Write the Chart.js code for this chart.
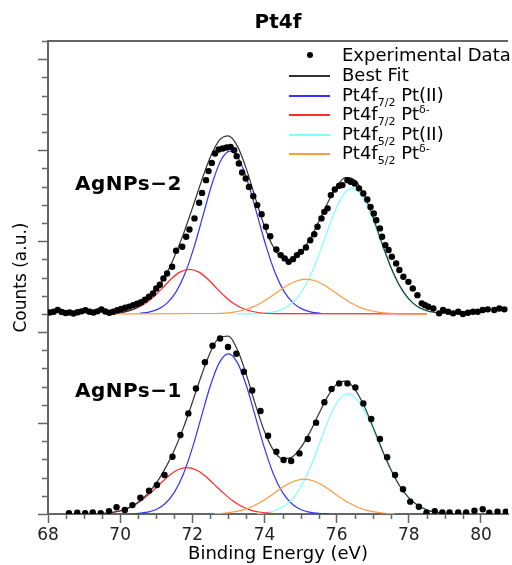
<!DOCTYPE html>
<html>
<head>
<meta charset="utf-8">
<script src="https://cdn.jsdelivr.net/npm/chart.js@4.4.0/dist/chart.umd.min.js"></script>
<style>
  html, body { margin: 0; padding: 0; background: #fff; }
  #wrap { position: relative; width: 512px; height: 565px; overflow: hidden; }
  #chart { position: absolute; left: 0; top: 0; }
  .txt { position: absolute; font-family: "DejaVu Sans", sans-serif; color: #000; white-space: nowrap; }
  .leg { font-size: 18px; line-height: 20px; left: 342px; }
  .leg sub, .leg sup { font-size: 11px; line-height: 0; }
  .sw { position: absolute; left: 289px; width: 41px; height: 1.5px; }
  .dot { position: absolute; left: 307px; width: 6px; height: 6px; border-radius: 50%; background: #000; }
  .sample { font-size: 20px; font-weight: bold; left: 75px; line-height: 24px; letter-spacing: 0.5px; }
</style>
</head>
<body>
<div id="wrap">
  <canvas id="chart" width="512" height="565"></canvas>

  <span class="dot" style="top:52px"></span>
  <span class="txt leg" style="top:45px">Experimental Data</span>
  <span class="sw" style="top:75px;background:#333"></span>
  <span class="txt leg" style="top:65px">Best Fit</span>
  <span class="sw" style="top:95px;background:#3333ff"></span>
  <span class="txt leg" style="top:85px">Pt4f<sub>7/2</sub> Pt(II)</span>
  <span class="sw" style="top:114px;background:#ff2a2a"></span>
  <span class="txt leg" style="top:104px">Pt4f<sub>7/2</sub> Pt<sup>δ-</sup></span>
  <span class="sw" style="top:134px;background:#80ffff"></span>
  <span class="txt leg" style="top:124px">Pt4f<sub>5/2</sub> Pt(II)</span>
  <span class="sw" style="top:153px;background:#ff9a40"></span>
  <span class="txt leg" style="top:143px">Pt4f<sub>5/2</sub> Pt<sup>δ-</sup></span>

  <span class="txt sample" style="top:171px">AgNPs−2</span>
  <span class="txt sample" style="top:378px">AgNPs−1</span>
</div>

<script>
// axis ranges
const X_MIN = 68, X_MAX = 80.75;
const Y_MIN = 0, Y_MAX = 26;
const OFFSET_2 = 11;   // vertical shift of the AgNPs-2 trace

// ---- AgNPs-1 (lower trace) ----
const s1DataE = [68.58, 68.81, 69.03, 69.24, 69.46, 69.69, 69.90, 70.13, 70.34, 70.56, 70.80, 71.02, 71.23, 71.45, 71.67, 71.89, 72.10, 72.35, 72.56, 72.77, 72.99, 73.22, 73.43, 73.66, 73.89, 74.10, 74.33, 74.53, 74.74, 74.97, 75.20, 75.43, 75.66, 75.86, 76.07, 76.30, 76.52, 76.74, 76.96, 77.20, 77.40, 77.62, 77.84, 78.04, 78.28, 78.49, 78.72, 78.93, 79.13, 79.37, 79.59, 79.82, 80.05, 80.23, 80.46, 80.69];
const s1DataY = [0.04, 0.07, 0.04, 0.09, 0.04, 0.16, 0.37, 0.22, 0.49, 0.90, 1.28, 1.59, 2.14, 3.15, 4.34, 5.53, 6.90, 8.34, 9.25, 9.65, 9.18, 8.81, 7.82, 6.79, 5.66, 4.30, 3.42, 2.97, 2.91, 3.33, 4.12, 5.02, 6.14, 6.87, 7.18, 7.18, 6.96, 6.08, 5.22, 4.12, 3.12, 2.14, 1.36, 0.68, 0.40, 0.07, 0.16, 0.09, 0.09, 0.09, 0.09, 0.18, 0.26, 0.07, 0.13, 0.13];

const s1FitE = [69.5, 69.75, 70.0, 70.25, 70.5, 70.75, 71.0, 71.25, 71.5, 71.75, 72.0, 72.25, 72.5, 72.75, 73.0, 73.25, 73.5, 73.75, 74.0, 74.25, 74.5, 74.75, 75.0, 75.25, 75.5, 75.75, 76.0, 76.25, 76.5, 76.75, 77.0, 77.25, 77.5, 77.75, 78.0, 78.25, 78.5, 78.75, 79.0, 79.25];
const s1FitY = [0.03, 0.08, 0.18, 0.35, 0.65, 1.09, 1.70, 2.51, 3.51, 4.72, 6.13, 7.60, 8.89, 9.70, 9.78, 9.03, 7.65, 6.01, 4.53, 3.50, 3.04, 3.11, 3.63, 4.46, 5.48, 6.45, 7.14, 7.30, 6.87, 5.99, 4.83, 3.59, 2.46, 1.54, 0.89, 0.48, 0.23, 0.10, 0.04, 0.02];

const s1BlueE = [70.3, 70.5, 70.75, 71.0, 71.25, 71.5, 71.75, 72.0, 72.25, 72.5, 72.75, 73.0, 73.25, 73.5, 73.75, 74.0, 74.25, 74.5, 74.75, 75.0, 75.25, 75.5, 75.8];
const s1BlueY = [0, 0.03, 0.10, 0.25, 0.58, 1.19, 2.19, 3.62, 5.34, 7.05, 8.32, 8.80, 8.32, 7.05, 5.34, 3.62, 2.19, 1.19, 0.58, 0.25, 0.10, 0.03, 0];

const s1RedE = [69.6, 69.85, 70.1, 70.35, 70.6, 70.85, 71.1, 71.35, 71.6, 71.85, 72.1, 72.35, 72.6, 72.85, 73.1, 73.35, 73.6, 73.85, 74.1, 74.35];
const s1RedY = [0.05, 0.11, 0.23, 0.44, 0.75, 1.17, 1.64, 2.10, 2.43, 2.55, 2.43, 2.10, 1.64, 1.17, 0.75, 0.44, 0.23, 0.11, 0.05, 0.02];

const s1CyanE = [73.8, 74.05, 74.3, 74.55, 74.8, 75.05, 75.3, 75.55, 75.8, 76.05, 76.3, 76.55, 76.8, 77.05, 77.3, 77.55, 77.8, 78.05, 78.3, 78.55, 78.8];
const s1CyanY = [0.03, 0.07, 0.19, 0.44, 0.89, 1.64, 2.71, 4.01, 5.29, 6.24, 6.60, 6.32, 5.55, 4.47, 3.30, 2.24, 1.39, 0.79, 0.41, 0.20, 0.09];

const s1OrangeE = [72.6, 72.85, 73.1, 73.35, 73.6, 73.85, 74.1, 74.35, 74.6, 74.85, 75.1, 75.35, 75.6, 75.85, 76.1, 76.35, 76.6, 76.85, 77.1, 77.35, 77.6];
const s1OrangeY = [0.02, 0.04, 0.10, 0.20, 0.36, 0.60, 0.91, 1.26, 1.59, 1.83, 1.92, 1.83, 1.59, 1.26, 0.91, 0.60, 0.36, 0.20, 0.10, 0.04, 0.02];

// ---- AgNPs-2 (upper trace, before offset) ----
const s2DataE = [68.05, 68.16, 68.27, 68.38, 68.49, 68.60, 68.71, 68.82, 68.93, 69.04, 69.15, 69.26, 69.37, 69.48, 69.59, 69.70, 69.81, 69.92, 70.03, 70.14, 70.25, 70.36, 70.47, 70.58, 70.69, 70.80, 70.91, 71.00, 71.10, 71.20, 71.30, 71.44, 71.55, 71.72, 71.83, 71.92, 72.06, 72.19, 72.27, 72.38, 72.45, 72.54, 72.63, 72.73, 72.84, 72.95, 73.06, 73.16, 73.23, 73.29, 73.38, 73.48, 73.57, 73.69, 73.80, 73.92, 74.04, 74.16, 74.33, 74.45, 74.56, 74.67, 74.79, 74.90, 75.01, 75.15, 75.27, 75.38, 75.47, 75.58, 75.66, 75.75, 75.84, 75.95, 76.07, 76.16, 76.30, 76.39, 76.50, 76.62, 76.74, 76.85, 76.94, 77.03, 77.10, 77.20, 77.26, 77.35, 77.44, 77.53, 77.65, 77.74, 77.85, 77.99, 78.11, 78.24, 78.36, 78.45, 78.54, 78.68, 78.84, 78.95, 79.09, 79.23, 79.37, 79.50, 79.64, 79.78, 79.91, 80.05, 80.19, 80.37, 80.51, 80.65];
const s2DataY = [0.08, 0.12, 0.21, 0.10, 0.05, 0.08, 0.02, 0.09, 0.14, 0.20, 0.12, 0.08, 0.14, 0.24, 0.13, 0.06, 0.12, 0.20, 0.27, 0.34, 0.40, 0.48, 0.56, 0.64, 0.78, 0.94, 1.12, 1.40, 1.60, 1.95, 2.22, 2.59, 3.47, 3.69, 4.24, 4.64, 5.25, 6.11, 6.65, 7.35, 7.85, 8.30, 8.82, 9.04, 9.09, 9.15, 9.18, 9.00, 8.67, 8.27, 7.77, 7.44, 6.98, 6.47, 5.98, 5.48, 4.79, 4.27, 3.54, 3.23, 3.05, 2.86, 3.01, 3.23, 3.41, 3.65, 4.05, 4.38, 4.79, 5.25, 5.61, 5.80, 6.53, 6.84, 7.04, 7.08, 7.35, 7.26, 7.17, 6.90, 6.62, 6.29, 5.88, 5.52, 5.15, 4.70, 4.24, 3.78, 3.51, 3.14, 2.77, 2.41, 2.04, 1.76, 1.40, 1.03, 0.58, 0.48, 0.39, 0.30, 0.03, 0.21, 0.12, 0.03, 0.12, -0.01, 0.06, 0.12, 0.12, 0.21, 0.25, 0.21, 0.30, 0.25];

const s2FitE = [69.75, 70.0, 70.25, 70.5, 70.75, 71.0, 71.25, 71.5, 71.75, 72.0, 72.25, 72.5, 72.75, 73.0, 73.25, 73.5, 73.75, 74.0, 74.25, 74.5, 74.75, 75.0, 75.25, 75.5, 75.75, 76.0, 76.25, 76.5, 76.75, 77.0, 77.25, 77.5, 77.75, 78.0, 78.25, 78.5, 78.75, 79.0];
const s2FitY = [0.03, 0.07, 0.18, 0.38, 0.74, 1.30, 2.09, 3.13, 4.37, 5.80, 7.28, 8.62, 9.55, 9.79, 9.22, 7.96, 6.35, 4.80, 3.66, 3.05, 2.98, 3.36, 4.08, 5.05, 6.10, 7.00, 7.49, 7.36, 6.60, 5.36, 3.93, 2.59, 1.54, 0.82, 0.39, 0.17, 0.07, 0.02];

const s2BlueE = [70.55, 70.8, 71.05, 71.3, 71.55, 71.8, 72.05, 72.3, 72.55, 72.8, 73.05, 73.3, 73.55, 73.8, 74.05, 74.3, 74.55, 74.8, 75.05, 75.3, 75.55];
const s2BlueY = [0.04, 0.10, 0.26, 0.59, 1.21, 2.23, 3.68, 5.43, 7.17, 8.47, 8.95, 8.47, 7.17, 5.43, 3.68, 2.23, 1.21, 0.59, 0.26, 0.10, 0.04];

const s2RedE = [69.67, 69.92, 70.17, 70.42, 70.67, 70.92, 71.17, 71.42, 71.67, 71.92, 72.17, 72.42, 72.67, 72.92, 73.17, 73.42, 73.67, 73.92, 74.17, 74.42, 78.5];
const s2RedY = [0.02, 0.05, 0.13, 0.28, 0.54, 0.93, 1.42, 1.93, 2.31, 2.45, 2.31, 1.93, 1.42, 0.93, 0.54, 0.28, 0.13, 0.05, 0.02, 0.01, 0];

const s2CyanE = [73.2, 73.93, 74.18, 74.43, 74.68, 74.93, 75.18, 75.43, 75.68, 75.93, 76.18, 76.43, 76.68, 76.93, 77.18, 77.43, 77.68, 77.93, 78.18, 78.43, 78.68, 78.93];
const s2CyanY = [0, 0.03, 0.08, 0.20, 0.46, 0.93, 1.72, 2.84, 4.19, 5.53, 6.53, 6.90, 6.53, 5.53, 4.19, 2.84, 1.72, 0.93, 0.46, 0.20, 0.08, 0.03];

const s2OrangeE = [69.7, 72.65, 72.9, 73.15, 73.4, 73.65, 73.9, 74.15, 74.4, 74.65, 74.9, 75.15, 75.4, 75.65, 75.9, 76.15, 76.4, 76.65, 76.9, 77.15, 77.4, 77.65, 78.5];
const s2OrangeY = [0, 0.02, 0.04, 0.10, 0.20, 0.36, 0.60, 0.91, 1.26, 1.59, 1.82, 1.91, 1.82, 1.59, 1.26, 0.91, 0.60, 0.36, 0.20, 0.10, 0.04, 0.02, 0];

const COL_FIT = '#333333', COL_BLUE = '#3333ff', COL_RED = '#ff2a2a', COL_CYAN = '#80ffff', COL_ORANGE = '#ff9a40';

function pts(xs, ys, off) {
    return xs.map(function(x, i) { return {x: x, y: ys[i] + off}; });
}
function curve(xs, ys, off, color, w) {
    return {
        data: pts(xs, ys, off),
        showLine: true,
        borderColor: color,
        borderWidth: w || 1.2,
        pointRadius: 0,
        cubicInterpolationMode: 'monotone',
        fill: false
    };
}
function marks(xs, ys, off) {
    return {
        data: pts(xs, ys, off),
        showLine: false,
        pointRadius: 3.2,
        pointStyle: 'circle',
        backgroundColor: '#000',
        borderColor: '#000',
        borderWidth: 0
    };
}

// minor ticks + top frame line
const axisExtras = {
    id: 'axisExtras',
    afterDraw: function(chart) {
        const c = chart.ctx, a = chart.chartArea;
        const xs = chart.scales.x, ys = chart.scales.y;
        c.save();
        c.strokeStyle = '#666';
        c.lineWidth = 1.5;
        c.beginPath();
        xs.ticks.forEach(function(t) {
            if (t.value % 2 !== 0 && t.value < X_MAX) {
                const px = Math.round(xs.getPixelForValue(t.value)) + 0.5;
                c.moveTo(px, a.bottom);
                c.lineTo(px, a.bottom + 5);
            }
        });
        ys.ticks.forEach(function(t) {
            if (t.value % 5 !== 0) {
                const py = Math.round(ys.getPixelForValue(t.value)) + 0.5;
                c.moveTo(a.left - 6, py);
                c.lineTo(a.left, py);
            }
        });
        c.stroke();
        c.lineWidth = 2;
        c.beginPath();
        c.moveTo(a.left, a.top);
        c.lineTo(a.right, a.top);
        c.stroke();
        c.restore();
    }
};

const ctx = document.getElementById('chart');
new Chart(ctx.getContext('2d'), {
    type: 'scatter',
    data: {
        datasets: [
            marks(s2DataE, s2DataY, OFFSET_2),
            marks(s1DataE, s1DataY, 0),
            curve(s2FitE, s2FitY, OFFSET_2, COL_FIT),
            curve(s1FitE, s1FitY, 0, COL_FIT),
            curve(s2OrangeE, s2OrangeY, OFFSET_2, COL_ORANGE),
            curve(s1OrangeE, s1OrangeY, 0, COL_ORANGE),
            curve(s2RedE, s2RedY, OFFSET_2, COL_RED),
            curve(s1RedE, s1RedY, 0, COL_RED),
            curve(s2CyanE, s2CyanY, OFFSET_2, COL_CYAN),
            curve(s1CyanE, s1CyanY, 0, COL_CYAN),
            curve(s2BlueE, s2BlueY, OFFSET_2, COL_BLUE),
            curve(s1BlueE, s1BlueY, 0, COL_BLUE)
        ]
    },
    options: {
        responsive: false,
        animation: false,
        layout: { padding: 0 },
        plugins: {
            legend: { display: false },
            tooltip: { enabled: false },
            title: {
                display: true,
                text: 'Pt4f',
                fullSize: false,
                color: '#000',
                font: { family: 'DejaVu Sans', size: 20, weight: 'bold' },
                padding: { top: 11, bottom: 6 }
            }
        },
        scales: {
            x: {
                type: 'linear',
                min: X_MIN,
                max: X_MAX,
                border: { display: true, color: '#666', width: 2 },
                grid: {
                    drawOnChartArea: false,
                    tickLength: 9,
                    tickWidth: 1.5,
                    tickColor: function(c) { return c.tick && c.tick.value % 2 === 0 ? '#666' : 'rgba(0,0,0,0)'; }
                },
                ticks: {
                    stepSize: 0.5,
                    autoSkip: false,
                    maxRotation: 0,
                    padding: 2,
                    color: '#222',
                    font: { family: 'DejaVu Sans', size: 17 },
                    callback: function(v) { return v % 2 === 0 ? v : ''; }
                },
                title: {
                    display: true,
                    text: 'Binding Energy (eV)',
                    color: '#000',
                    font: { family: 'DejaVu Sans', size: 18 },
                    padding: { top: 0, bottom: 0 }
                },
                afterFit: function(s) { s.height = 51; }
            },
            y: {
                min: Y_MIN,
                max: Y_MAX,
                border: { display: true, color: '#666', width: 2 },
                grid: {
                    drawOnChartArea: false,
                    tickLength: 10,
                    tickWidth: 1.5,
                    tickColor: function(c) { return c.tick && c.tick.value % 5 === 0 ? '#666' : 'rgba(0,0,0,0)'; }
                },
                ticks: { stepSize: 1, display: false },
                title: {
                    display: true,
                    text: 'Counts (a.u.)',
                    color: '#000',
                    font: { family: 'DejaVu Sans', size: 17 },
                    padding: { top: 11, bottom: 0 }
                },
                afterFit: function(s) { s.width = 48; }
            }
        }
    },
    plugins: [axisExtras]
});
</script>
</body>
</html>
